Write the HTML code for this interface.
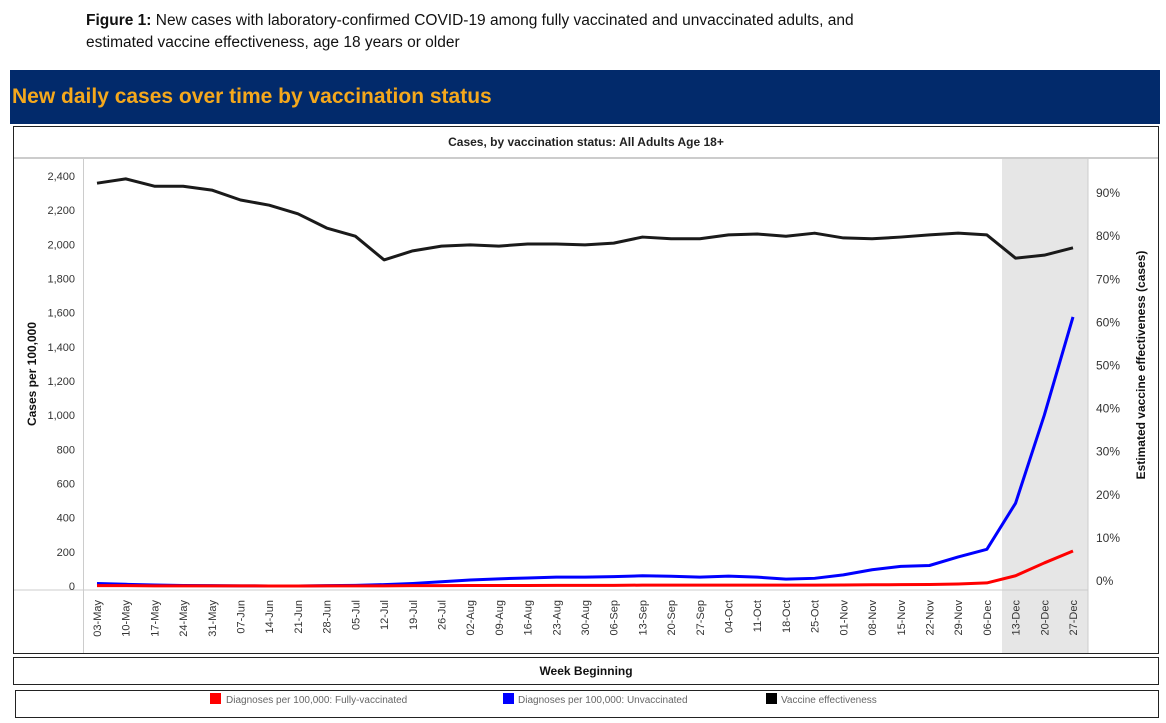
<!DOCTYPE html>
<html><head><meta charset="utf-8"><style>
body{margin:0;width:1166px;height:723px;background:#fff;position:relative;overflow:hidden;font-family:"Liberation Sans",sans-serif}
.abs{position:absolute}
</style></head><body>
<div class="abs" style="left:86px;top:10px;font-size:15.5px;line-height:22px;color:#111;width:1000px"><b>Figure 1:</b> New cases with laboratory-confirmed COVID-19 among fully vaccinated and unvaccinated adults, and<br>estimated vaccine effectiveness, age 18 years or older</div>
<div class="abs" style="left:10px;top:70px;width:1150px;height:54px;background:#022a6b"></div>
<div class="abs" style="left:12px;top:85px;font-size:21px;font-weight:bold;color:#f5a81c">New daily cases over time by vaccination status</div>
<svg class="abs" style="left:0;top:0" width="1166" height="723">
<rect x="13.5" y="126.5" width="1145" height="527" fill="none" stroke="#222"/>
<text x="586" y="146" text-anchor="middle" font-size="12" font-weight="bold" fill="#222">Cases, by vaccination status: All Adults Age 18+</text>
<line x1="14" y1="158" x2="1158" y2="158" stroke="#ccc" stroke-width="2"/>
<rect x="1002" y="159" width="86" height="494" fill="#e6e6e6"/>
<line x1="1088" y1="159" x2="1088" y2="653" stroke="#ccc"/>
<line x1="83.5" y1="159" x2="83.5" y2="653" stroke="#ccc"/>
<line x1="14" y1="590" x2="1088" y2="590" stroke="#ccc"/>
<g id="yl" font-size="11" fill="#333" text-anchor="end"></g>
<g id="yr" font-size="12" fill="#333"></g>
<g id="xl" font-size="11" fill="#333"></g>
<g id="lines"></g>
<text transform="translate(36,374) rotate(-90)" text-anchor="middle" font-size="12" font-weight="bold" fill="#111">Cases per 100,000</text>
<text transform="translate(1145,365) rotate(-90)" text-anchor="middle" font-size="12" font-weight="bold" fill="#111">Estimated vaccine effectiveness (cases)</text>
<rect x="13.5" y="657.5" width="1145" height="27" fill="none" stroke="#222"/>
<text x="586" y="675" text-anchor="middle" font-size="12" font-weight="bold" fill="#111">Week Beginning</text>
<rect x="15.5" y="690.5" width="1143" height="27" fill="none" stroke="#222"/>
<g><rect x="210" y="693" width="11" height="11" fill="#f00"/><text x="226" y="703" font-size="10" fill="#666">Diagnoses per 100,000: Fully-vaccinated</text></g>
<g><rect x="503" y="693" width="11" height="11" fill="#00f"/><text x="518" y="703" font-size="10" fill="#666">Diagnoses per 100,000: Unvaccinated</text></g>
<g><rect x="766" y="693" width="11" height="11" fill="#000"/><text x="781" y="703" font-size="10" fill="#666">Vaccine effectiveness</text></g>
</svg>
<script>
const weeks=["03-May","10-May","17-May","24-May","31-May","07-Jun","14-Jun","21-Jun","28-Jun","05-Jul","12-Jul","19-Jul","26-Jul","02-Aug","09-Aug","16-Aug","23-Aug","30-Aug","06-Sep","13-Sep","20-Sep","27-Sep","04-Oct","11-Oct","18-Oct","25-Oct","01-Nov","08-Nov","15-Nov","22-Nov","29-Nov","06-Dec","13-Dec","20-Dec","27-Dec"];
const unvaccinated=[15,10,6,3,2,1,0,0,2,4,8,15,25,35,42,47,52,52,55,60,57,52,58,52,40,45,65,95,115,120,170,215,485,1000,1575];
const fullyVaccinated=[2,2,1,1,1,1,0,0,1,1,1,2,2,3,3,3,4,4,4,5,5,5,5,5,5,5,6,7,8,9,12,18,60,135,205];
const effectiveness=[92.3,93.3,91.6,91.6,90.7,88.4,87.2,85.2,81.9,80.0,74.5,76.6,77.7,78.0,77.7,78.2,78.2,78.0,78.4,79.8,79.4,79.4,80.3,80.5,80.0,80.7,79.6,79.4,79.8,80.3,80.7,80.3,74.9,75.6,77.3];
const leftTicks=[0,200,400,600,800,1000,1200,1400,1600,1800,2000,2200,2400];
const rightTicks=[0,10,20,30,40,50,60,70,80,90];
const NS="http://www.w3.org/2000/svg";
const xS=i=>97+i*(976/(weeks.length-1));
const yL=v=>586-v*410/2400;
const yR=v=>581-v*4.31;
function mk(t,a,p){const e=document.createElementNS(NS,t);for(const k in a)e.setAttribute(k,a[k]);p.appendChild(e);return e;}
const yl=document.getElementById('yl'),yr=document.getElementById('yr'),xl=document.getElementById('xl'),lg=document.getElementById('lines');
leftTicks.forEach(v=>{const t=mk('text',{x:75,y:yL(v)+4},yl);t.textContent=v.toLocaleString('en-US');

});
rightTicks.forEach(v=>{const t=mk('text',{x:1096,y:yR(v)+4},yr);t.textContent=v+'%';

});
weeks.forEach((w,i)=>{const t=mk('text',{transform:`translate(${xS(i)+4},600) rotate(-90)`,'text-anchor':'end'},xl);t.textContent=w;

});
function line(arr,ys,col,name){const p=mk('polyline',{points:arr.map((v,i)=>xS(i)+','+ys(v)).join(' '),fill:'none',stroke:col,'stroke-width':3,'stroke-linejoin':'round'},lg);

}
line(effectiveness,yR,'#1a1a1a','line-vaccine-effectiveness');
line(unvaccinated,yL,'#0000ff','line-unvaccinated');
line(fullyVaccinated,yL,'#ff0000','line-fully-vaccinated');
</script>
</body></html>
